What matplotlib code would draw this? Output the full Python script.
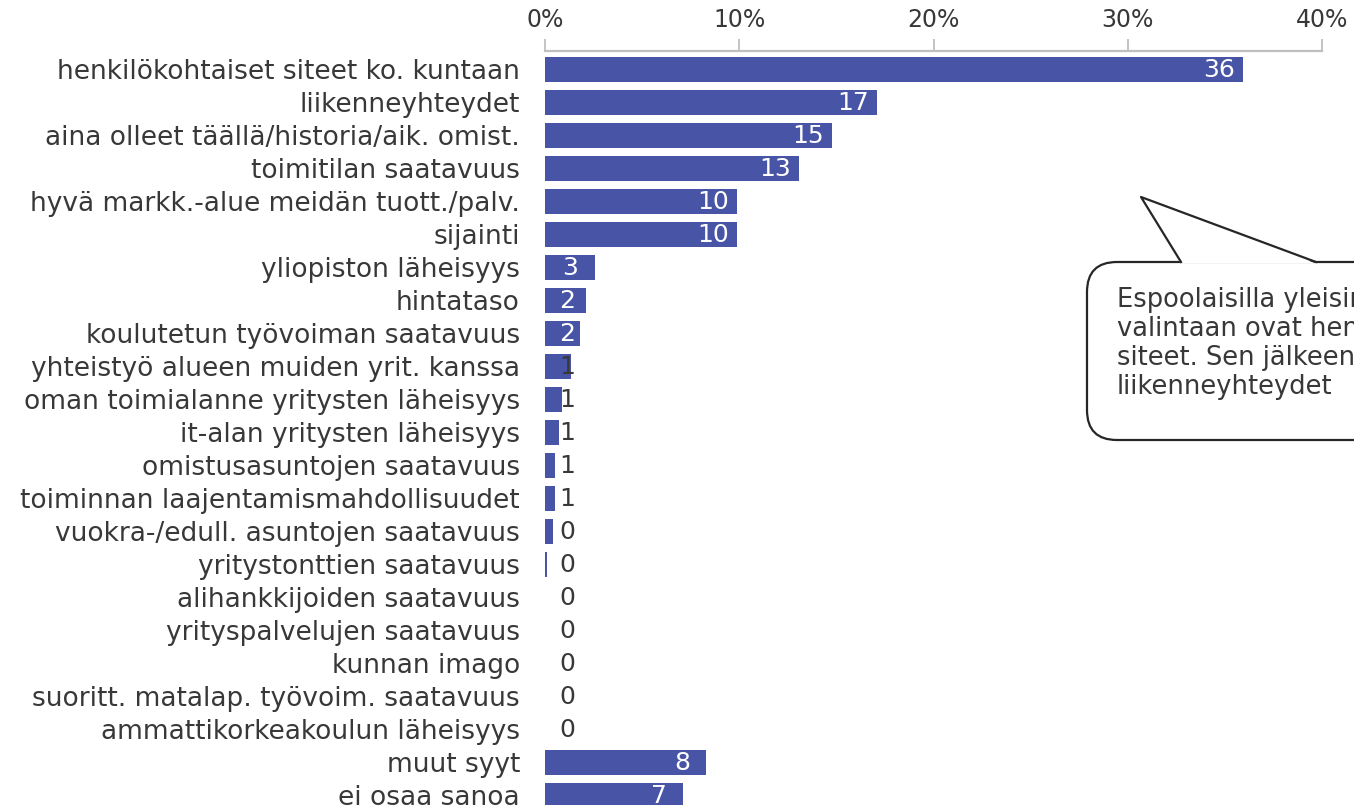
import matplotlib

matplotlib.use("Agg")
import matplotlib.pyplot as plt
import numpy as np
from matplotlib.patches import FancyBboxPatch, Polygon
from matplotlib.lines import Line2D
from matplotlib.transforms import Affine2D


CATEGORIES = [
    "henkilökohtaiset siteet ko. kuntaan",
    "liikenneyhteydet",
    "aina olleet täällä/historia/aik. omist.",
    "toimitilan saatavuus",
    "hyvä markk.-alue meidän tuott./palv.",
    "sijainti",
    "yliopiston läheisyys",
    "hintataso",
    "koulutetun työvoiman saatavuus",
    "yhteistyö alueen muiden yrit. kanssa",
    "oman toimialanne yritysten läheisyys",
    "it-alan yritysten läheisyys",
    "omistusasuntojen saatavuus",
    "toiminnan laajentamismahdollisuudet",
    "vuokra-/edull. asuntojen saatavuus",
    "yritystonttien saatavuus",
    "alihankkijoiden saatavuus",
    "yrityspalvelujen saatavuus",
    "kunnan imago",
    "suoritt. matalap. työvoim. saatavuus",
    "ammattikorkeakoulun läheisyys",
    "muut syyt",
    "ei osaa sanoa",
]

VALUES = [
    35.95, 17.1, 14.8, 13.1, 9.9, 9.9, 2.55, 2.1, 1.8, 1.35, 0.86, 0.74,
    0.53, 0.53, 0.43, 0.12, 0.0, 0.0, 0.0, 0.0, 0.0, 8.3, 7.1,
]

X_TICKS = [0, 10, 20, 30, 40]

CALLOUT_LINES = [
    "Espoolaisilla yleisimmät syyt sijainnin",
    "valintaan ovat henkilökohtaiset",
    "siteet. Sen jälkeen tulevat",
    "liikenneyhteydet",
]

BAR_COLOR = "#4854A6"
TEXT_COLOR = "#383838"
W, H = 1354, 805


def plot_chart():
    fig = plt.figure(figsize=(W / 100, H / 100), dpi=100)
    fig.patch.set_facecolor("white")

    row = 33.0
    top_px = 51.0
    y_lo, y_hi = -0.55, 22.9
    ax_h = (y_hi - y_lo) * row
    left = 545 / W
    width = (1322 - 545) / W
    bottom = 1 - (top_px + ax_h) / H
    ax = fig.add_axes([left, bottom, width, ax_h / H])

    y = np.arange(len(CATEGORIES))
    ax.barh(y, VALUES, height=0.76, color=BAR_COLOR, edgecolor="none")

    for yi, v in zip(y, VALUES):
        xc = max(v - 1.25, 1.15)
        color = "white" if v >= 1.5 else TEXT_COLOR
        ax.text(xc, yi + 0.02, f"{v:.0f}", ha="center", va="center",
                fontsize=18, color=color)

    ax.set_xlim(0, 40)
    ax.set_ylim(y_hi, y_lo)
    ax.set_yticks(y)
    ax.set_yticklabels(CATEGORIES, fontsize=19, color=TEXT_COLOR)
    ax.tick_params(axis="y", length=0, pad=18)

    ax.xaxis.tick_top()
    ax.set_xticks(X_TICKS)
    ax.set_xticklabels([f"{t}%" for t in X_TICKS], fontsize=17, color=TEXT_COLOR)
    ax.tick_params(axis="x", direction="out", length=9, width=1.3,
                   color="#BFBFBF", pad=5)

    for name, spine in ax.spines.items():
        spine.set_visible(name == "top")
    ax.spines["top"].set_color("#BFBFBF")
    ax.spines["top"].set_linewidth(1.6)

    # callout box in pixel coordinates (origin top-left)
    tr = Affine2D().scale(1 / W, -1 / H).translate(0, 1) + fig.transFigure
    box = FancyBboxPatch((1087, 262), 400, 178,
                         boxstyle="round,pad=0,rounding_size=30",
                         facecolor="white", edgecolor="#262626",
                         linewidth=1.6, transform=tr, zorder=10)
    fig.patches.append(box)
    tail = Polygon([(1181, 263.5), (1141, 197), (1316, 263.5)], closed=True,
                   facecolor="white", edgecolor="none", transform=tr, zorder=11)
    fig.patches.append(tail)
    fig.lines.append(Line2D([1181, 1141, 1316], [262, 197, 262], color="#262626",
                            linewidth=1.6, transform=tr, zorder=12))

    for i, line in enumerate(CALLOUT_LINES):
        fig.text(1117, 300 + i * 29, line, transform=tr, fontsize=18.5,
                 color=TEXT_COLOR, ha="left", va="center", zorder=13)

    fig.savefig("out.png", dpi=100)
    plt.close(fig)


if __name__ == "__main__":
    plot_chart()
